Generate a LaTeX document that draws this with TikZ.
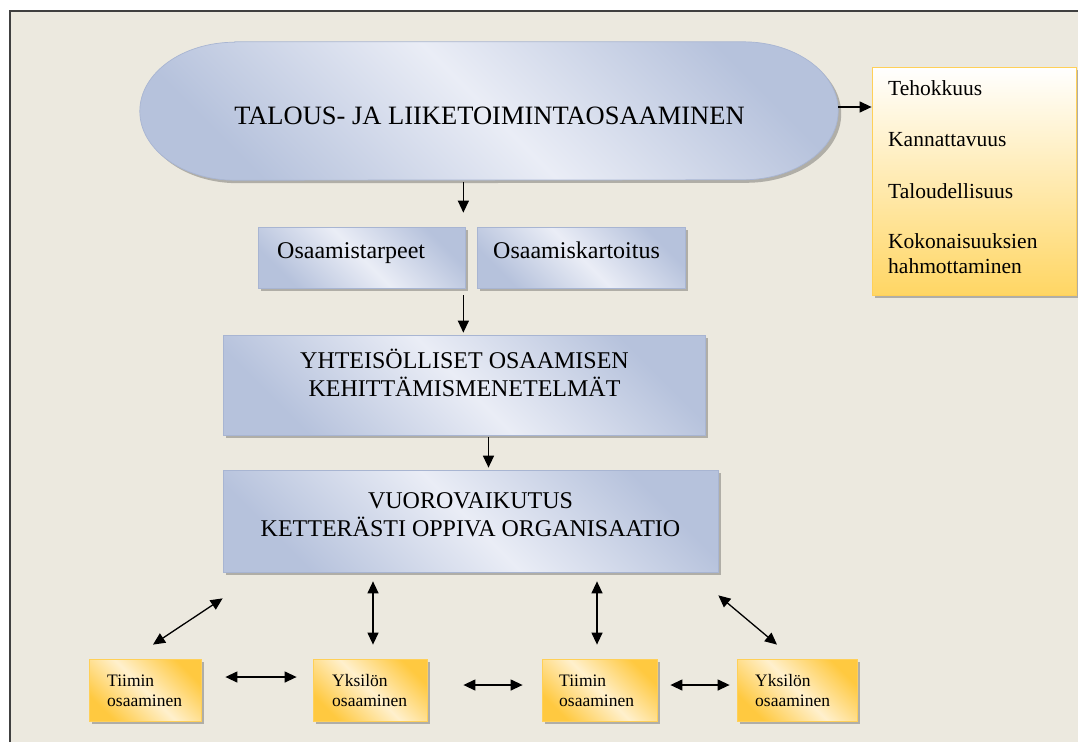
\documentclass[tikz,border=0pt]{standalone}
\usepackage{fontspec}
\setmainfont{Liberation Serif}
\usetikzlibrary{arrows.meta,shadows}

\definecolor{pagebg}{RGB}{236,233,223}
\definecolor{frameline}{RGB}{64,64,64}
\definecolor{blueDark}{RGB}{182,194,220}
\definecolor{blueLight}{RGB}{234,237,246}
\definecolor{blueEdge}{RGB}{168,181,210}
\definecolor{goldDeep}{RGB}{255,201,64}
\definecolor{goldPale}{RGB}{255,240,205}
\definecolor{goldEdge}{RGB}{255,208,88}
\definecolor{goldBottom}{RGB}{255,214,100}

\begin{document}
\begin{tikzpicture}[x=1pt,y=-1pt,
  softshadow/.style={drop shadow={shadow xshift=3pt,shadow yshift=-3pt,fill=black,opacity=0.25}},
  blueshade/.style={top color=blueDark,bottom color=blueDark,middle color=blueLight,shading angle=-45},
  goldshade/.style={top color=goldDeep,bottom color=goldDeep,middle color=goldPale,shading angle=-45},
  bluebox/.style={draw=blueEdge,line width=0.7pt,inner sep=0pt,blueshade,softshadow},
  goldbox/.style={draw=goldEdge,line width=0.8pt,inner sep=0pt,goldshade,
    minimum height=62pt,softshadow},
  listbox/.style={draw=goldEdge,line width=0.8pt,inner sep=0pt,
    top color=white,bottom color=goldBottom,softshadow},
  bigtext/.style={font=\fontsize{26.5}{30}\selectfont,inner sep=0pt},
  boxtext/.style={font=\fontsize{24}{28.5}\selectfont,inner sep=0pt},
  listtext/.style={font=\fontsize{21.5}{25}\selectfont,inner sep=0pt,anchor=base west},
  smalltext/.style={font=\fontsize{17.5}{20.7}\selectfont,inner sep=0pt,anchor=base west},
  arr/.style={-{Triangle[length=12pt,width=11pt]},line width=1.3pt},
  dbl/.style={{Triangle[length=12pt,width=11pt]}-{Triangle[length=12pt,width=11pt]},line width=1.3pt}]

\useasboundingbox (0,0) rectangle (1078,742);

% page and frame
\fill[white] (0,0) rectangle (1078,742);
\fill[pagebg] (10,11) rectangle (1078,742);
\draw[frameline,line width=1.5pt] (10,742) -- (10,11) -- (1078,11);

% top pill
\node[minimum width=698pt,minimum height=138pt,inner sep=0pt] (pill) at (489,111) {};
\path[draw=blueEdge,line width=0.7pt,blueshade,softshadow]
  ([xshift=95pt]pill.north west) -- ([xshift=-95pt]pill.north east)
  arc[start angle=90,end angle=-90,x radius=95pt,y radius=69pt]
  -- ([xshift=95pt]pill.south west)
  arc[start angle=270,end angle=90,x radius=95pt,y radius=69pt] -- cycle;
\node[bigtext,anchor=base] (pilltext) at (489.5,124) {TALOUS- JA LIIKETOIMINTAOSAAMINEN};

% list box on the right
\node[listbox,minimum width=204pt,minimum height=228pt] (kpi) at (974,181) {};
\node[listtext] (kpi1) at (888,95) {Tehokkuus};
\node[listtext] (kpi2) at (888,146.7) {Kannattavuus};
\node[listtext] (kpi3) at (888,198.3) {Taloudellisuus};
\node[listtext] (kpi4) at (888,248.3) {\begin{tabular}[t]{@{}l@{}}Kokonaisuuksien\\hahmottaminen\end{tabular}};

% middle boxes
\node[bluebox,minimum width=207pt,minimum height=61pt] (tarpeet) at (361.5,257.5) {};
\node[boxtext,anchor=base west] (tarpeettext) at (277,258.5) {Osaamistarpeet};
\node[bluebox,minimum width=208pt,minimum height=61pt] (kartoitus) at (581,257.5) {};
\node[boxtext,anchor=base west] (kartoitustext) at (493,258.5) {Osaamiskartoitus};

\node[bluebox,minimum width=482pt,minimum height=100pt] (yhteis) at (464,385) {};
\node[boxtext,anchor=base] (yhteistext) at (464.5,368.3)
  {\begin{tabular}[t]{@{}c@{}}YHTEISÖLLISET OSAAMISEN\\KEHITTÄMISMENETELMÄT\end{tabular}};

\node[bluebox,minimum width=495pt,minimum height=102pt] (vuoro) at (470.5,521) {};
\node[boxtext,anchor=base] (vuorotext) at (470.5,508.3)
  {\begin{tabular}[t]{@{}c@{}}VUOROVAIKUTUS\\KETTERÄSTI OPPIVA ORGANISAATIO\end{tabular}};

% bottom row
\node[goldbox,minimum width=112pt] (tiimiA) at (145,690) {};
\node[smalltext] (tiimiAtext) at (107,686)
  {\begin{tabular}[t]{@{}l@{}}Tiimin\\osaaminen\end{tabular}};
\node[goldbox,minimum width=114pt] (yksiA) at (370,690) {};
\node[smalltext] (yksiAtext) at (332,686)
  {\begin{tabular}[t]{@{}l@{}}Yksilön\\osaaminen\end{tabular}};
\node[goldbox,minimum width=115pt] (tiimiB) at (599.5,690) {};
\node[smalltext] (tiimiBtext) at (559,686)
  {\begin{tabular}[t]{@{}l@{}}Tiimin\\osaaminen\end{tabular}};
\node[goldbox,minimum width=120pt] (yksiB) at (797,690) {};
\node[smalltext] (yksiBtext) at (755,686)
  {\begin{tabular}[t]{@{}l@{}}Yksilön\\osaaminen\end{tabular}};

% vertical axes of the straight connectors
\coordinate (axisA) at ([xshift=-2pt]tarpeet.east);
\coordinate (axisB) at ([xshift=24.5pt]yhteis.south);
\coordinate (axisC) at ([xshift=3pt]yksiA.north);
\coordinate (axisD) at ([xshift=-2.5pt]tiimiB.north);

% connectors
\draw[arr] ([yshift=4pt]pill.east) -- ([yshift=4pt]pill.east -| kpi.west);
\draw[arr,shorten <=2pt,shorten >=14pt] (pill.south -| axisA) -- (tarpeet.north -| axisA);
\draw[arr,shorten <=7pt,shorten >=2pt] (tarpeet.south -| axisA) -- (yhteis.north -| axisA);
\draw[arr,shorten <=2pt,shorten >=2pt] (yhteis.south -| axisB) -- (vuoro.north -| axisB);

\draw[dbl] ([yshift=-26pt]vuoro.south west) -- ([xshift=8pt,yshift=14pt]tiimiA.north);
\draw[dbl,shorten <=9pt,shorten >=14pt] (vuoro.south -| axisC) -- (yksiA.north -| axisC);
\draw[dbl,shorten <=9pt,shorten >=14pt] (vuoro.south -| axisD) -- (tiimiB.north -| axisD);
\draw[dbl] ([yshift=-23pt]vuoro.south east) -- ([xshift=-20pt,yshift=14pt]yksiB.north);

\draw[dbl] ([xshift=24pt,yshift=13pt]tiimiA.east) -- ([xshift=-16pt,yshift=13pt]yksiA.west);
\draw[dbl] ([xshift=36pt,yshift=5pt]yksiA.east) -- ([xshift=-19pt,yshift=5pt]tiimiB.west);
\draw[dbl] ([xshift=13pt,yshift=5pt]tiimiB.east) -- ([xshift=-7pt,yshift=5pt]yksiB.west);
\end{tikzpicture}
\end{document}
